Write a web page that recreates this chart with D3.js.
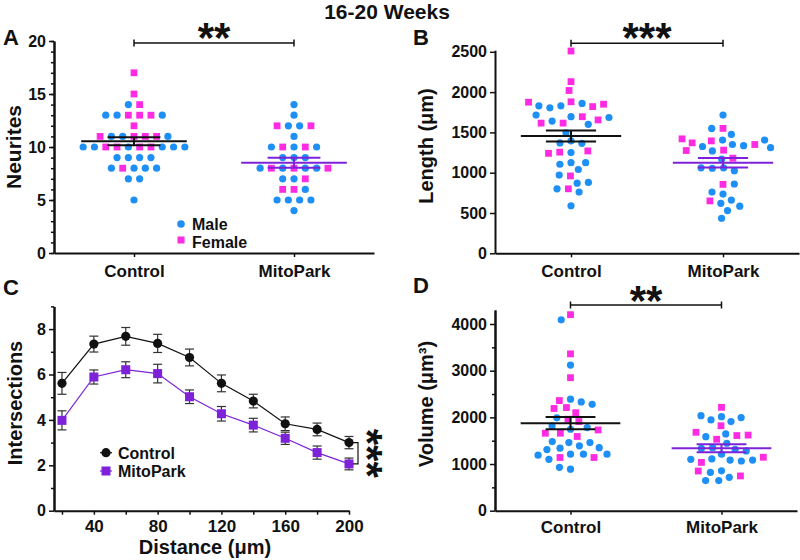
<!DOCTYPE html>
<html><head><meta charset="utf-8">
<script src="https://cdn.jsdelivr.net/npm/d3@7"></script>
<style>
body{margin:0;background:#fff}
svg text{font-family:"Liberation Sans",Arial,Helvetica,sans-serif;font-weight:bold;fill:#111}
</style></head><body>
<svg id="chart" width="800" height="560"></svg>
<script>
// ---------------- DATA ----------------
const groups = ["Control", "MitoPark"];

// Panel A: neurites per neuron
const neuritesControl = [17,15,14,14,13,13,13,13,13,13,12,11,11,11,11,11,11,11,10,10,10,10,10,10,10,10,10,10,9,9,9,9,8,8,8,8,8,7,7,5];
const neuritesControlSex = "F F M F M M F F F M F F M M F F F M M M F F M F F M M M M M M M M F M M M M M M".split(" ");
const neuritesMito = [14,13,12,12,12,12,11,10,10,10,10,10,9,9,9,8,8,8,8,8,8,8,7,7,7,6,6,6,5,5,5,5,4];
const neuritesMitoSex = "M M F M M F M M F M F M M M M M F M F M M F M M F F F M M M M M M".split(" ");
const neuritesMean = [10.55, 8.52];
const neuritesSem = [0.38, 0.47];

// Panel B: total length (µm)
const lengthControl = [2510,2130,2020,1880,1860,1830,1820,1805,1830,1850,1875,1695,1695,1615,1640,1600,1655,1615,1685,1715,1395,1365,1495,1370,1250,1255,1270,1240,1125,1040,1105,1125,960,970,870,880,800,760,800,590];
const lengthControlSex = "F F F F M M F M M F F M F F M M F F M M M M M M M F F F M M M M F M M M F M M M".split(" ");
const lengthMito = [1715,1550,1550,1475,1405,1395,1350,1335,1325,1350,1370,1405,1420,1280,1270,1275,1310,1170,1180,1060,1055,1025,1060,855,860,735,760,660,620,650,585,530,435];
const lengthMitoSex = "M F M M M F M M M F F M F F M F M M F M M M M F M M M M M F M M M".split(" ");
const lengthMean = [1455, 1124];
const lengthSem = [68, 58];

// Panel D: volume (µm³)
const volumeControl = [4200,4090,3360,3120,2850,2390,2330,2360,2280,2210,2190,2100,1960,1990,1910,1815,1745,1780,1660,1590,1660,1730,1460,1390,1340,1460,1480,1310,1350,1210,1210,1140,1100,1140,1190,1210,890,930];
const volumeControlSex = "F M F M F M M F M F F F F M F M M M F F F F M M M M M M M M M F M F M M M M".split(" ");
const volumeMito = [2215,2015,1945,1910,1995,2035,1820,1645,1530,1610,1585,1620,1680,1445,1350,1315,1335,1280,1210,1110,1085,1065,1035,1085,1100,1145,855,820,715,645,645,745,850];
const volumeMitoSex = "F M M M M M F M F F M F F M M M M M M M M M F M M F M M M M M F F".split(" ");
const volumeMean = [1875, 1340];
const volumeSem = [132, 86];

// Panel C: Sholl analysis
const distances = [20,40,60,80,100,120,140,160,180,200];
const shollControlMean = [5.61,7.34,7.68,7.37,6.75,5.61,4.83,3.83,3.58,3.00];
const shollControlSem  = [0.48,0.35,0.39,0.40,0.37,0.37,0.30,0.30,0.28,0.27];
const shollMitoMean    = [3.98,5.89,6.21,6.04,5.02,4.27,3.77,3.19,2.56,2.06];
const shollMitoSem     = [0.42,0.31,0.35,0.41,0.30,0.32,0.30,0.27,0.29,0.26];

const sigLabels = ["**", "***", "***", "**"]; // A, B, C, D

// ---------------- STYLE ----------------
const BLUE = "#1e8ff5", PINK = "#ff2be3", PURPLE = "#7d22d8";
const svg = d3.select("#chart");
const STAR_F = 42, STAR_C = 0.47;

svg.append("text").attr("x", 387).attr("y", 19).attr("text-anchor", "middle")
  .style("font-size", "21px").text("16-20 Weeks");

function panelLetter(t, x, y) {
  svg.append("text").attr("x", x).attr("y", y).style("font-size", "22px").text(t);
}

function styleAxis(g, fs) {
  g.selectAll(".domain").attr("stroke", "#111").attr("stroke-width", 2);
  g.selectAll(".tick line").attr("stroke", "#111").attr("stroke-width", 1.5);
  g.selectAll("text").style("font-size", fs + "px").attr("fill", "#111");
}

function yAxis(x, scale, major, minor) {
  const g = svg.append("g").attr("transform", `translate(${x},0)`);
  if (minor) {
    const gm = g.append("g").call(d3.axisLeft(scale).tickValues(minor).tickSize(3).tickSizeOuter(0).tickFormat(""));
    styleAxis(gm, 16);
  }
  const ga = g.append("g").call(d3.axisLeft(scale).tickValues(major).tickSize(5).tickSizeOuter(0)
    .tickPadding(3).tickFormat(d3.format("d")));
  styleAxis(ga, 16);
  return g;
}

function yTitle(text, x, y, fs) {
  svg.append("text").attr("transform", `translate(${x},${y}) rotate(-90)`)
    .attr("text-anchor", "middle").style("font-size", fs + "px").text(text);
}

function stars(text, cx, cy, rotate) {
  if (rotate) {
    svg.append("text").attr("transform", `translate(${cx - STAR_C * STAR_F},${cy}) rotate(90)`)
      .attr("text-anchor", "middle").style("font-size", STAR_F + "px").text(text);
  } else {
    svg.append("text").attr("x", cx).attr("y", cy + STAR_C * STAR_F)
      .attr("text-anchor", "middle").style("font-size", STAR_F + "px").text(text);
  }
}

function sigBar(x1, x2, y, label, starY) {
  const g = svg.append("g").attr("stroke", "#111").attr("stroke-width", 1.5);
  g.append("line").attr("x1", x1).attr("x2", x2).attr("y1", y).attr("y2", y);
  g.append("line").attr("x1", x1).attr("x2", x1).attr("y1", y - 3.5).attr("y2", y + 3.5);
  g.append("line").attr("x1", x2).attr("x2", x2).attr("y1", y - 3.5).attr("y2", y + 3.5);
  stars(label, (x1 + x2) / 2, starY, false);
}

// layouts (computed from values only)
function rowLayout(values, spacing) {
  const counts = d3.rollup(values, v => v.length, d => d);
  const seen = new Map();
  return values.map(v => {
    const i = seen.get(v) || 0; seen.set(v, i + 1);
    return (i - (counts.get(v) - 1) / 2) * spacing;
  });
}
function dodge(ys, sx, sy) {
  const placed = [];
  let last = 1;
  return ys.map(y => {
    const near = placed.filter(p => Math.abs(p.y - y) < sy);
    const cands = [0];
    near.forEach(p => {
      const d = sx * Math.sqrt(1 - ((p.y - y) / sy) ** 2);
      cands.push(p.x - d, p.x + d);
    });
    const ok = c => near.every(p => ((p.x - c) / sx) ** 2 + ((p.y - y) / sy) ** 2 >= 0.999);
    const valid = cands.filter(ok);
    const best = d3.min(valid, c => Math.abs(c));
    const ties = valid.filter(c => Math.abs(c) - best < 0.6);
    let x = ties.find(c => Math.sign(c) === -last);
    if (x === undefined) x = ties[0];
    if (Math.abs(x) > 0.01) last = Math.sign(x);
    placed.push({ x, y });
    return x;
  });
}

function drawPoints(cx, xs, ys, sexes) {
  const g = svg.append("g");
  sexes.forEach((s, i) => {
    if (s === "M") {
      g.append("circle").attr("cx", cx + xs[i]).attr("cy", ys[i]).attr("r", 3.6).attr("fill", BLUE);
    } else {
      g.append("rect").attr("x", cx + xs[i] - 3.4).attr("y", ys[i] - 3.4)
        .attr("width", 6.8).attr("height", 6.8).attr("fill", PINK);
    }
  });
}

function meanSem(x, y, mean, sem, halfMean, halfSem, color) {
  const g = svg.append("g").attr("stroke", color).attr("stroke-width", 2);
  g.append("line").attr("x1", x - halfMean).attr("x2", x + halfMean).attr("y1", y(mean)).attr("y2", y(mean));
  g.append("line").attr("x1", x - halfSem).attr("x2", x + halfSem).attr("y1", y(mean + sem)).attr("y2", y(mean + sem));
  g.append("line").attr("x1", x - halfSem).attr("x2", x + halfSem).attr("y1", y(mean - sem)).attr("y2", y(mean - sem));
  g.append("line").attr("x1", x).attr("x2", x).attr("y1", y(mean + sem)).attr("y2", y(mean - sem));
}

function scatterPanel(opt) {
  const x = d3.scalePoint().domain(groups).range(opt.xr).padding(0.5);
  const y = d3.scaleLinear().domain(opt.yd).range(opt.yr);
  const step = x.step();
  const series = [[opt.c, opt.cs], [opt.m, opt.ms]];
  series.forEach(([vals, sex], gi) => {
    const ys = vals.map(v => y(v));
    const xs = opt.rows ? rowLayout(vals, 11.3) : dodge(ys, 11.3, 9);
    drawPoints(x(groups[gi]), xs, ys, sex);
  });
  groups.forEach((gname, gi) => {
    meanSem(x(gname), y, opt.mean[gi], opt.sem[gi], step * 0.33, step * 0.165, gi === 0 ? "#111" : PURPLE);
  });
  yAxis(opt.xr[0], y, opt.major, opt.minor);
  const gx = svg.append("g").attr("transform", `translate(0,${opt.yr[0]})`)
    .call(d3.axisBottom(x).tickSize(4).tickSizeOuter(0));
  styleAxis(gx, 17);
  gx.selectAll("text").attr("y", opt.labelDy).attr("dy", null);
  return { x, y };
}

// ---------- Panel A ----------
panelLetter("A", 3, 45);
const A = scatterPanel({
  xr: [54, 374], yd: [0, 20], yr: [253, 41], rows: true,
  c: neuritesControl, cs: neuritesControlSex, m: neuritesMito, ms: neuritesMitoSex,
  mean: neuritesMean, sem: neuritesSem,
  major: [0, 5, 10, 15, 20], minor: d3.range(0, 21, 1), labelDy: 24
});
yTitle("Neurites", 21, 147, 21);
sigBar(A.x("Control"), A.x("MitoPark"), 43, sigLabels[0], 32.5);
// legend
svg.append("circle").attr("cx", 181).attr("cy", 224).attr("r", 3.8).attr("fill", BLUE);
svg.append("rect").attr("x", 177.5).attr("y", 236.5).attr("width", 7).attr("height", 7).attr("fill", PINK);
svg.append("text").attr("x", 192).attr("y", 229.5).style("font-size", "16px").text("Male");
svg.append("text").attr("x", 192).attr("y", 247.5).style("font-size", "16px").text("Female");

// ---------- Panel B ----------
panelLetter("B", 413, 45);
const B = scatterPanel({
  xr: [495, 799], yd: [0, 2520], yr: [253.3, 50.2], rows: false,
  c: lengthControl, cs: lengthControlSex, m: lengthMito, ms: lengthMitoSex,
  mean: lengthMean, sem: lengthSem,
  major: [0, 500, 1000, 1500, 2000, 2500], minor: null, labelDy: 24
});
yTitle("Length (μm)", 433, 146, 20);
sigBar(B.x("Control"), B.x("MitoPark"), 43.3, sigLabels[1], 32);

// ---------- Panel D ----------
panelLetter("D", 413, 293);
const D = scatterPanel({
  xr: [495, 797], yd: [0, 4300], yr: [510.7, 310], rows: false,
  c: volumeControl, cs: volumeControlSex, m: volumeMito, ms: volumeMitoSex,
  mean: volumeMean, sem: volumeSem,
  major: [0, 1000, 2000, 3000, 4000], minor: [500, 1500, 2500, 3500], labelDy: 22.5
});
yTitle("Volume (μm³)", 433, 404, 20);
sigBar(D.x("Control"), D.x("MitoPark"), 305, sigLabels[3], 295);

// ---------- Panel C ----------
panelLetter("C", 3, 295);
const xC = d3.scaleLinear().domain([15, 200]).range([54, 349]);
const yC = d3.scaleLinear().domain([0, 9]).range([510.7, 306.4]);
yAxis(54, yC, [0, 2, 4, 6, 8], [1, 3, 5, 7, 9]);
const gxC = svg.append("g").attr("transform", "translate(0,510.7)")
  .call(d3.axisBottom(xC).tickValues(distances).tickSize(4).tickSizeOuter(0)
    .tickFormat(d => d % 40 === 0 ? d : ""));
styleAxis(gxC, 17);
gxC.selectAll("text").attr("y", 21).attr("dy", null);
yTitle("Intersections", 22, 403, 20);
svg.append("text").attr("x", 205).attr("y", 554).attr("text-anchor", "middle")
  .style("font-size", "20px").text("Distance (μm)");

const sholl = [
  { mean: shollControlMean, sem: shollControlSem, color: "#111", shape: "circle" },
  { mean: shollMitoMean, sem: shollMitoSem, color: PURPLE, shape: "square" }
];
const line = d3.line().x((d, i) => xC(distances[i])).y(d => yC(d));
sholl.forEach(s => {
  svg.append("path").datum(s.mean).attr("d", line).attr("fill", "none")
    .attr("stroke", s.color).attr("stroke-width", 1.2);
});
sholl.forEach(s => {
  const g = svg.append("g").attr("stroke", "#333").attr("stroke-width", 1.2);
  distances.forEach((d, i) => {
    const x = xC(d), y1 = yC(s.mean[i] + s.sem[i]), y2 = yC(s.mean[i] - s.sem[i]);
    g.append("line").attr("x1", x).attr("x2", x).attr("y1", y1).attr("y2", y2);
    g.append("line").attr("x1", x - 4.5).attr("x2", x + 4.5).attr("y1", y1).attr("y2", y1);
    g.append("line").attr("x1", x - 4.5).attr("x2", x + 4.5).attr("y1", y2).attr("y2", y2);
  });
});
sholl.forEach(s => {
  distances.forEach((d, i) => {
    const x = xC(d), y = yC(s.mean[i]);
    if (s.shape === "circle") svg.append("circle").attr("cx", x).attr("cy", y).attr("r", 4.6).attr("fill", s.color);
    else svg.append("rect").attr("x", x - 4.5).attr("y", y - 4.5).attr("width", 9).attr("height", 9).attr("fill", s.color);
  });
});
// legend C
[["Control", "#111", "circle", 452.7], ["MitoPark", PURPLE, "square", 471]].forEach(([t, c, sh, y]) => {
  svg.append("line").attr("x1", 100).attr("x2", 112).attr("y1", y).attr("y2", y).attr("stroke", c).attr("stroke-width", 1.2);
  if (sh === "circle") svg.append("circle").attr("cx", 106).attr("cy", y).attr("r", 4.6).attr("fill", c);
  else svg.append("rect").attr("x", 101.5).attr("y", y - 4.5).attr("width", 9).attr("height", 9).attr("fill", c);
  svg.append("text").attr("x", 118).attr("y", y + 6).style("font-size", "16px").text(t);
});
// bracket + stars
const lastI = distances.length - 1;
const bx = 358, by1 = yC(shollControlMean[lastI]), by2 = yC(shollMitoMean[lastI]);
const gb = svg.append("g").attr("stroke", "#111").attr("stroke-width", 1.2).attr("fill", "none");
gb.append("path").attr("d", `M${bx - 5},${by1}H${bx}V${by2}H${bx - 5}`);
stars(sigLabels[2], 373, (by1 + by2) / 2, true);
</script></body></html>
